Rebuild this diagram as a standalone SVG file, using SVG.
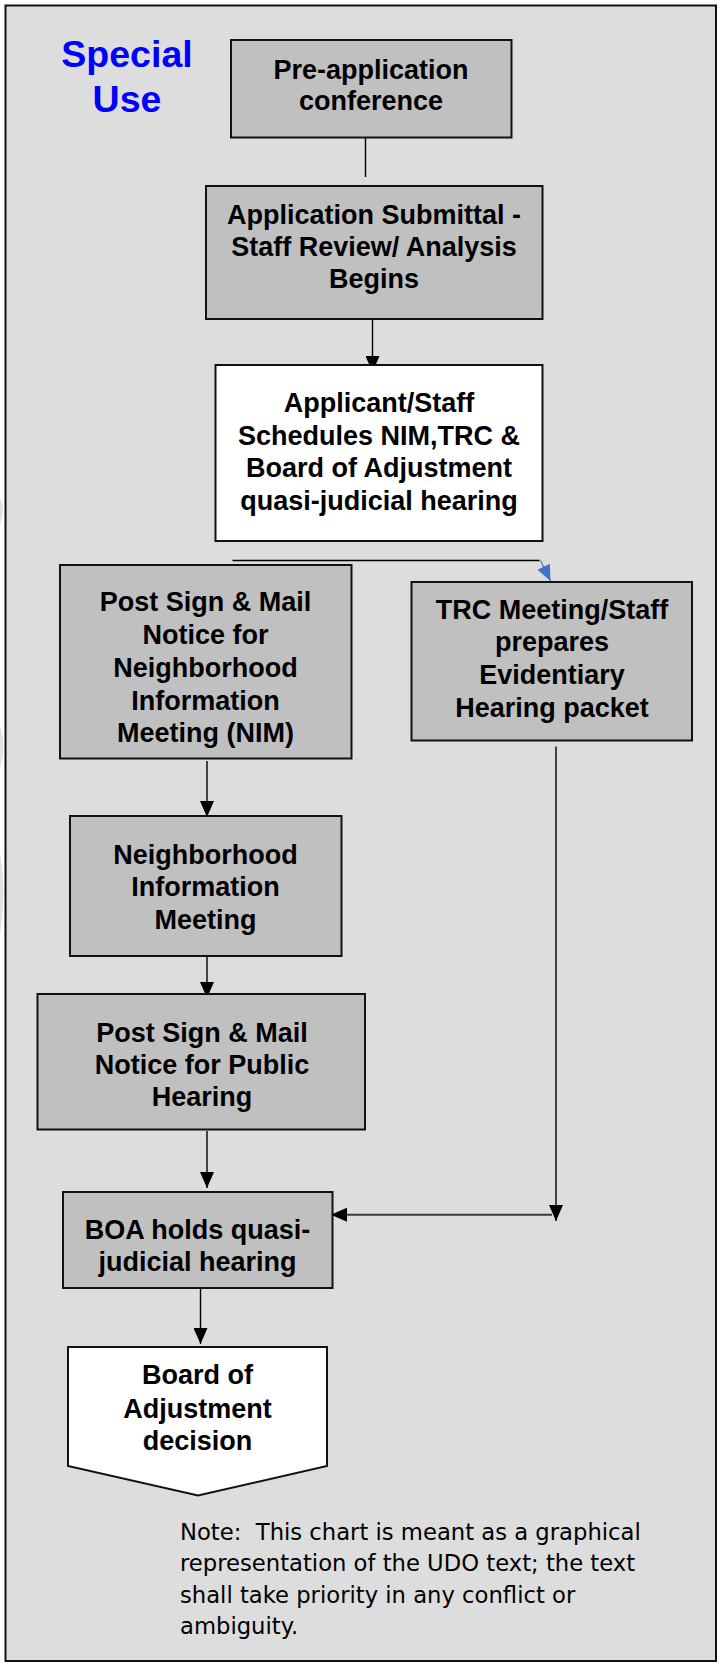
<svg xmlns="http://www.w3.org/2000/svg" width="721" height="1663" viewBox="0 0 721 1663">
  <style>
    .box { stroke: #111; stroke-width: 2; }
    .grey { fill: #c0c0c0; }
    .white { fill: #ffffff; }
    .lbl { font-family: "Liberation Sans", Arial, sans-serif; font-weight: bold; font-size: 27px; fill: #000; text-anchor: middle; }
    .title { font-family: "Liberation Sans", Arial, sans-serif; font-weight: bold; font-size: 37.5px; fill: #0000ff; text-anchor: middle; }
    .note { font-family: "DejaVu Sans", Verdana, sans-serif; font-size: 22.7px; fill: #000; }
    .wire { fill: none; stroke: #000; stroke-width: 1.4; }
  </style>
  <defs>
    <marker id="arrow" viewBox="0 0 16 14" markerWidth="16" markerHeight="14" refX="16" refY="7" orient="auto" markerUnits="userSpaceOnUse">
      <path d="M0,0 L16,7 L0,14 z" fill="#000"/>
    </marker>
    <marker id="arrowBlue" viewBox="0 0 16 14" markerWidth="16" markerHeight="14" refX="16" refY="7" orient="auto" markerUnits="userSpaceOnUse">
      <path d="M0,0 L16,7 L0,14 z" fill="#4472c4"/>
    </marker>
  </defs>

  <!-- page background and frame -->
  <rect x="0" y="0" width="721" height="1663" fill="#ffffff"/>
  <g fill="#e2e2e2">
    <path d="M0,498 Q6,510 0,524 z"/>
    <path d="M0,726 Q7,746 0,768 z"/>
    <path d="M0,852 Q7,892 0,934 z"/>
  </g>
  <rect x="5.5" y="5.5" width="710.5" height="1655.5" fill="#dddddd" stroke="#111" stroke-width="2"/>

  <!-- heading -->
  <g id="title">
    <text class="title" x="127" y="67">Special</text>
    <text class="title" x="127" y="111.5">Use</text>
  </g>

  <!-- connectors -->
  <g id="connectors">
    <path class="wire" d="M365.5,138 V177"/>
    <path class="wire" d="M372.5,319 V372" marker-end="url(#arrow)"/>
    <path class="wire" d="M232.5,560.5 H539.5"/>
    <path fill="none" stroke="#4472c4" stroke-width="1.2" d="M540.5,560.5 L550.5,581" marker-end="url(#arrowBlue)"/>
    <path class="wire" d="M207,761 V817" marker-end="url(#arrow)"/>
    <path class="wire" d="M207,951 V998" marker-end="url(#arrow)"/>
    <path class="wire" d="M207,1131 V1188" marker-end="url(#arrow)"/>
    <path class="wire" d="M200.5,1288 V1344" marker-end="url(#arrow)"/>
    <path class="wire" d="M556,746.5 V1221" marker-end="url(#arrow)"/>
    <path fill="none" stroke="#3a3a3a" stroke-width="2" d="M552,1214.7 H331" marker-end="url(#arrow)"/>
  </g>

  <!-- nodes -->
  <g id="pre-application">
    <rect class="box grey" x="231" y="40" width="280.5" height="97.5"/>
    <text class="lbl" x="371" y="78.5">Pre-application</text>
    <text class="lbl" x="371" y="109.5">conference</text>
  </g>

  <g id="application-submittal">
    <rect class="box grey" x="206" y="186" width="336.5" height="133"/>
    <text class="lbl" x="374" y="223.5">Application Submittal -</text>
    <text class="lbl" x="374" y="255.5">Staff Review/ Analysis</text>
    <text class="lbl" x="374" y="287.5">Begins</text>
  </g>

  <g id="schedules">
    <rect class="box white" x="215.5" y="365" width="327" height="176"/>
    <text class="lbl" x="379" y="412">Applicant/Staff</text>
    <text class="lbl" x="379" y="444.5">Schedules NIM,TRC &amp;</text>
    <text class="lbl" x="379" y="477">Board of Adjustment</text>
    <text class="lbl" x="379" y="509.5">quasi-judicial hearing</text>
  </g>

  <g id="post-nim-notice">
    <rect class="box grey" x="60" y="565" width="291.5" height="193.5"/>
    <text class="lbl" x="205.5" y="611">Post Sign &amp; Mail</text>
    <text class="lbl" x="205.5" y="644">Notice for</text>
    <text class="lbl" x="205.5" y="677">Neighborhood</text>
    <text class="lbl" x="205.5" y="709.5">Information</text>
    <text class="lbl" x="205.5" y="742">Meeting (NIM)</text>
  </g>

  <g id="trc-meeting">
    <rect class="box grey" x="411.5" y="582" width="280.5" height="158.5"/>
    <text class="lbl" x="552" y="618.5">TRC Meeting/Staff</text>
    <text class="lbl" x="552" y="650.5">prepares</text>
    <text class="lbl" x="552" y="683.5">Evidentiary</text>
    <text class="lbl" x="552" y="716.5">Hearing packet</text>
  </g>

  <g id="nim">
    <rect class="box grey" x="70" y="816" width="271.5" height="140"/>
    <text class="lbl" x="205.5" y="863.5">Neighborhood</text>
    <text class="lbl" x="205.5" y="896">Information</text>
    <text class="lbl" x="205.5" y="928.5">Meeting</text>
  </g>

  <g id="post-hearing-notice">
    <rect class="box grey" x="37.5" y="994" width="327.5" height="135.5"/>
    <text class="lbl" x="202" y="1042">Post Sign &amp; Mail</text>
    <text class="lbl" x="202" y="1073.5">Notice for Public</text>
    <text class="lbl" x="202" y="1106">Hearing</text>
  </g>

  <g id="boa-hearing">
    <rect class="box grey" x="63" y="1192" width="269.5" height="96"/>
    <text class="lbl" x="197.5" y="1239">BOA holds quasi-</text>
    <text class="lbl" x="197.5" y="1271">judicial hearing</text>
  </g>

  <g id="decision">
    <path class="box white" d="M68,1347 H327 V1466 L198,1495.5 L68,1466 z"/>
    <text class="lbl" x="197.5" y="1384">Board of</text>
    <text class="lbl" x="197.5" y="1417.5">Adjustment</text>
    <text class="lbl" x="197.5" y="1449.5">decision</text>
  </g>

  <g id="note">
    <text class="note" x="180" y="1540" xml:space="preserve">Note:  This chart is meant as a graphical</text>
    <text class="note" x="180" y="1571">representation of the UDO text; the text</text>
    <text class="note" x="180" y="1603">shall take priority in any conflict or</text>
    <text class="note" x="180" y="1634">ambiguity.</text>
  </g>
</svg>
